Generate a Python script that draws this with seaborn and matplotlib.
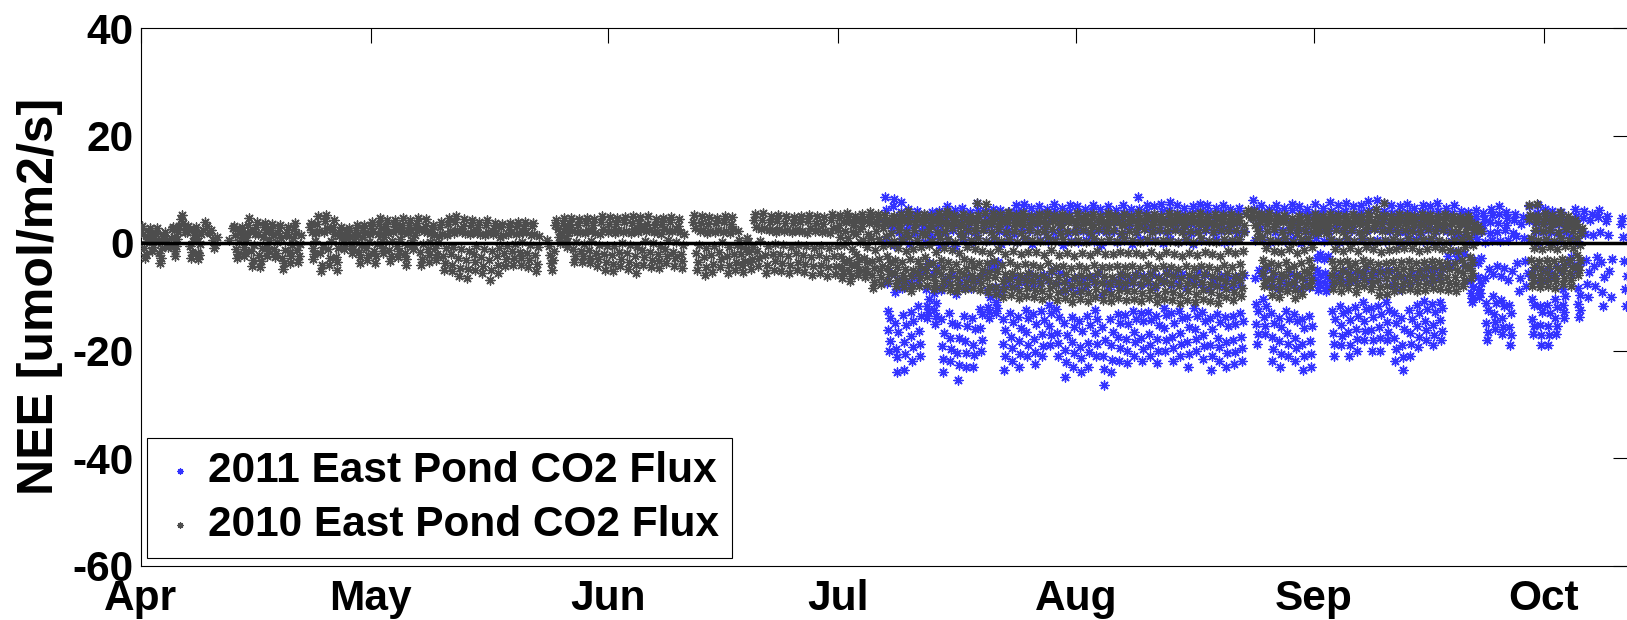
import matplotlib
matplotlib.use("Agg")
import matplotlib.pyplot as plt
import pandas as pd
import seaborn as sns

# ---------------- axis categories ----------------
month_names = ["Apr", "May", "Jun", "Jul", "Aug", "Sep", "Oct"]
month_start_doy = [91, 121, 152, 182, 213, 244, 274]
y_ticks = [-60, -40, -20, 0, 20, 40]

# ---------------- 2010 East Pond NEE (umol/m2/s): one string per calendar day,
# values in time-of-day order, "" = no data ----------------
nee_2010_apr = [
    "2.4 3.1 1.7 -0.9 -2.8 -2.1 0.3 1.2", "2.1 2.8 1.3 0.1 -1.5 -0.7 0.9 1.9",
    "1.6 2.7 0.4 -1.9 -3.7 -2.8 -1.0 0.9", "1.3 2.0 0.5 -0.8 -0.3 1.0",
    "2.6 3.0 1.1 -1.4 -2.4 -0.5 0.8 2.0", "3.1 4.4 5.2 3.7 2.0 2.6",
    "2.0 3.2 2.5 -0.6 -2.8 -1.7 0.4 1.4", "2.3 3.0 1.0 -1.8 -3.0 -2.2 -0.2 1.6",
    "2.4 4.0 3.2 2.0", "1.8 2.4 0.6 -1.0 -0.3 1.1", "", "0.6",
    "2.7 3.2 1.5 -1.2 -2.8 -2.0 0.2 1.9", "2.2 3.0 1.2 -0.8 -2.4 -1.6 0.5 1.6",
    "3.3 4.6 2.2 -1.5 -4.2 -3.1 -0.4 1.7", "2.9 4.0 1.6 -2.2 -4.4 -3.3 -0.9 1.2",
    "3.0 3.8 2.1 -0.7 -2.5 -1.5 0.6 2.4", "2.4 3.6 1.4 -1.1 -2.6 -1.9 0.2 1.8",
    "2.8 3.4 1.0 -2.7 -4.8 -3.8 -1.3 1.5", "2.1 3.0 1.3 -1.6 -3.7 -2.5 -0.3 1.0",
    "2.6 3.7 1.8 -1.3 -3.6 -2.4 -0.1 1.4", "",
    "2.9 3.8 2.0 -0.9 -3.0 -2.0 0.3 1.8", "3.6 5.0 2.3 -1.9 -5.3 -4.1 -0.8 2.0",
    "4.1 5.3 2.8 -1.2 -4.0 -2.7 0.4 2.5", "3.0 4.2 1.7 -2.6 -5.0 -3.6 -1.0 1.3",
    "2.4 3.0 1.6 0.2 -1.2 -0.5 0.9 2.0", "2.0 2.8 1.1 -0.6 -1.8 -1.1 0.4 1.5",
    "2.5 3.4 1.5 -1.6 -3.7 -2.6 -0.4 1.1", "2.8 3.4 1.8 -1.0 -3.1 -2.2 0.1 1.6",
]
nee_2010_may = [
    "3.1 4.0 2.2 -1.4 -3.7 -2.5 -0.2 1.7", "3.6 4.6 2.7 0.3 -1.9 -0.9 1.2 2.4",
    "3.2 4.2 1.9 -1.3 -3.4 -2.4 0.3 2.1", "3.5 4.3 2.6 -0.5 -2.6 -1.5 0.8 2.3",
    "3.4 4.6 2.1 -1.8 -4.0 -2.9 -0.3 1.8", "3.3 4.2 2.5 0.6 -1.2 -0.3 1.4 2.9",
    "3.8 4.6 2.4 -1.6 -4.0 -3.0 -0.1 2.2", "3.2 4.4 2.0 -1.2 -3.6 -2.3 0.2 1.9",
    "2.6 3.4 1.5 -1.0 -3.1 -2.0 0.0 1.3", "3.0 4.0 1.7 -2.4 -5.0 -3.7 -0.9 1.5",
    "3.5 4.6 2.2 -2.1 -5.3 -4.0 -0.7 1.9", "3.9 5.0 2.5 -2.8 -6.2 -4.6 -1.1 2.0",
    "3.1 4.4 1.9 -3.2 -6.5 -4.9 -1.5 1.6", "3.4 4.2 2.3 -2.0 -5.0 -3.5 -0.6 1.8",
    "2.9 4.0 1.6 -2.6 -5.6 -4.2 -1.2 1.4", "3.3 4.2 2.0 -3.1 -6.8 -5.0 -1.4 1.7",
    "2.8 3.8 1.8 -2.4 -5.5 -4.0 -1.0 1.2", "2.9 3.6 1.5 -1.9 -4.3 -3.0 -0.5 1.6",
    "3.0 3.8 2.0 -1.5 -4.0 -2.8 -0.2 1.7", "3.2 4.0 1.9 -1.7 -4.0 -2.7 0.1 2.1",
    "2.8 4.0 2.1 -1.9 -4.4 -3.2 -0.4 1.5", "3.1 3.8 1.6 -2.3 -5.3 -3.9 -0.8 1.3",
    "", "0.5 -0.6 -2.2 -3.8 -5.0 -3.1 -1.4",
    "3.3 4.2 2.6 1.2 0.0 1.9", "3.7 4.6 2.8 0.9 -0.8 0.2 1.8 3.0",
    "3.5 4.6 2.3 -1.2 -3.5 -2.4 0.1 2.0", "3.3 4.4 2.0 -1.5 -3.6 -2.5 -0.1 1.8",
    "3.8 4.6 2.4 -1.3 -3.8 -2.7 0.3 2.2", "3.4 4.4 1.9 -1.8 -4.2 -3.0 -0.3 1.7",
    "3.9 5.0 2.6 -2.0 -5.0 -3.6 -0.5 2.1",
]
nee_2010_jun = [
    "3.6 4.8 2.3 -2.2 -5.3 -3.9 -0.6 1.9", "3.5 4.6 2.5 -1.6 -4.2 -2.9 0.0 2.1",
    "3.9 4.8 2.2 -1.9 -4.8 -3.5 -0.4 1.8", "3.7 5.0 2.6 -2.4 -5.6 -4.1 -0.8 2.0",
    "3.8 4.8 2.7 -1.3 -4.0 -2.6 0.4 2.3", "3.6 5.0 2.4 -1.7 -4.4 -3.1 0.0 2.0",
    "3.4 4.4 2.0 -2.0 -4.7 -3.4 -0.5 1.6", "3.5 4.6 2.6 -1.2 -3.8 -2.5 0.5 2.2",
    "3.9 4.8 2.3 -1.6 -4.2 -2.8 0.2 2.4", "3.2 4.4 2.1 -2.0 -4.6 -3.3 -0.4 1.7",
    "", "4.0 5.2 2.7 -1.9 -5.0 -3.6 -0.3 2.3",
    "3.7 5.0 2.4 -2.6 -6.0 -4.4 -0.9 1.9", "3.6 4.8 2.2 -2.2 -5.4 -3.9 -0.6 2.0",
    "3.8 4.6 2.5 -1.6 -4.4 -3.0 0.1 2.1", "3.9 5.0 2.3 -2.4 -5.6 -4.1 -0.7 1.8",
    "3.5 4.8 2.6 -2.0 -5.0 -3.5 -0.4 2.2", "0.6 -0.5 -2.0 -4.1 -5.4 -3.3 -1.2",
    "1.0 0.1 -1.6 -3.6 -4.8 -2.9 -0.7", "4.2 5.4 2.9 -1.4 -4.2 -2.8 0.4 2.6",
    "4.3 5.6 2.8 -2.2 -5.6 -4.0 -0.5 2.4", "3.9 5.0 2.5 -2.0 -5.0 -3.4 -0.2 2.1",
    "4.1 5.2 2.6 -2.1 -5.2 -3.8 -0.4 2.3", "3.8 5.0 2.4 -2.4 -5.6 -4.0 -0.7 2.0",
    "3.7 4.8 2.5 -1.9 -5.0 -3.6 -0.3 2.2", "4.0 5.0 2.2 -2.3 -5.4 -3.9 -0.6 1.9",
    "4.1 5.2 2.7 -2.6 -6.0 -4.3 -0.9 2.3", "3.8 5.0 2.4 -2.3 -5.6 -4.1 -0.5 2.0",
    "3.6 4.8 2.2 -2.7 -6.2 -4.5 -1.0 1.8", "4.3 5.4 2.8 -2.4 -5.8 -4.2 -0.6 2.4",
]
nee_2010_jul = [
    "3.4 4.6 5.2 1.2 -2.5 -4.4 -6.6 -5.6 -3.3 -0.4 2.3 3.9",
    "4.1 5.6 4.8 0.9 -3.1 -5.2 -7.0 -6.1 -4.0 -1.1 2.0 3.3",
    "3.8 4.4 5.0 1.6 -2.0 -3.9 -6.0 -5.0 -2.9 0.2 2.6 4.2",
    "3.2 5.4 4.5 0.5 -2.7 -4.8 -6.4 -5.3 -3.6 -0.8 1.7 3.7",
    "4.4 5.8 5.1 1.0 -3.4 -5.9 -8.4 -7.2 -4.6 -1.3 2.2 3.6",
    "3.9 4.9 5.4 0.7 -2.9 -5.1 -7.6 -6.4 -4.2 -0.6 2.7 4.0",
    "3.5 5.2 4.3 1.3 -2.4 -4.7 -7.0 -5.8 -3.5 -0.2 1.9 3.8",
    "4.0 4.6 5.0 0.4 -3.2 -5.6 -8.0 -6.8 -4.4 -1.0 2.4 3.3",
    "3.7 5.4 4.4 0.8 -3.6 -6.0 -8.2 -7.1 -4.9 -1.4 2.1 4.1",
    "4.3 6.0 5.2 1.1 -3.0 -6.2 -9.0 -7.8 -5.0 -1.2 2.5 3.6",
    "3.6 4.7 5.2 0.6 -3.3 -5.5 -8.0 -6.6 -4.3 -0.7 1.8 3.9",
    "4.2 5.4 4.6 1.4 -2.6 -5.0 -7.8 -6.3 -3.9 -0.3 2.6 3.4",
    "3.3 5.0 4.2 0.3 -3.8 -6.3 -8.6 -7.5 -5.1 -1.6 2.0 3.7",
    "4.5 5.6 4.9 1.0 -3.1 -5.7 -8.4 -7.0 -4.5 -0.9 2.3 3.5",
    "3.8 5.3 6.0 0.8 -3.5 -6.1 -8.8 -7.6 -4.8 -1.3 2.7 4.2",
    "4.0 5.2 4.5 0.2 -3.9 -6.5 -9.0 -7.9 -5.3 -1.8 1.9 3.2",
    "3.5 4.8 5.4 1.2 -3.0 -5.8 -8.6 -7.3 -4.7 -0.8 2.4 4.0",
    "4.1 5.0 4.3 0.5 -3.4 -5.9 -8.4 -7.1 -4.4 -1.1 2.2 3.4",
    "4.4 7.4 5.3 0.9 -3.7 -6.2 -8.8 -7.4 -5.0 -1.5 2.5 3.8",
    "3.9 5.6 7.2 0.4 -3.8 -6.6 -9.2 -8.0 -5.4 -1.9 2.1 3.5",
    "4.2 5.6 4.7 1.1 -3.3 -6.4 -9.4 -8.1 -5.2 -1.2 2.6 3.7",
    "3.6 5.4 4.4 0.3 -4.1 -7.0 -10.0 -8.6 -5.8 -2.0 2.0 3.9",
    "4.5 5.8 5.0 0.8 -3.6 -6.7 -9.6 -8.2 -5.5 -1.4 2.3 3.3",
    "3.8 4.6 5.2 0.2 -4.3 -7.3 -10.2 -8.9 -6.0 -2.1 1.8 3.6",
    "4.0 5.6 4.8 1.0 -3.9 -6.8 -9.8 -8.4 -5.6 -1.7 2.4 3.4",
    "3.4 5.0 4.3 0.6 -4.0 -7.1 -10.0 -8.7 -5.9 -1.6 2.0 3.8",
    "4.3 5.4 4.6 0.4 -4.4 -7.4 -10.4 -9.0 -6.1 -2.2 2.2 3.5",
    "3.7 5.0 5.6 1.1 -3.7 -6.9 -9.8 -8.3 -5.3 -1.3 2.6 4.1",
    "4.1 5.2 4.4 0.3 -4.5 -7.6 -10.6 -9.2 -6.3 -2.3 1.9 3.3",
    "3.6 5.4 4.7 0.7 -4.2 -7.2 -10.2 -8.8 -5.7 -1.8 2.3 3.9",
    "4.2 5.0 4.5 0.1 -4.6 -7.8 -11.0 -9.5 -6.4 -2.4 2.1 3.4",
]
nee_2010_aug = [
    "3.9 5.6 4.6 0.6 -4.3 -7.4 -10.4 -9.0 -6.0 -1.9 2.4 3.6",
    "4.3 5.2 4.4 0.2 -4.6 -7.7 -10.8 -9.3 -6.2 -2.2 2.0 3.3",
    "3.5 4.7 5.4 0.9 -4.0 -7.0 -10.0 -8.5 -5.6 -1.5 2.6 4.0",
    "4.0 5.0 4.2 0.4 -4.4 -7.5 -10.6 -9.1 -6.1 -2.0 2.2 3.5",
    "3.7 5.6 4.9 0.7 -4.5 -7.6 -10.8 -9.4 -6.3 -2.1 2.5 3.9",
    "4.4 5.2 4.3 0.3 -4.2 -7.2 -10.2 -8.8 -5.8 -1.7 1.9 3.4",
    "3.6 4.8 5.4 1.0 -4.4 -7.5 -10.6 -9.0 -6.0 -1.9 2.3 3.8",
    "4.2 5.0 4.4 0.5 -4.3 -7.3 -10.4 -8.9 -5.9 -1.8 2.1 3.3",
    "3.8 5.6 4.7 0.2 -4.6 -7.7 -10.8 -9.3 -6.4 -2.3 2.6 4.1",
    "4.1 5.2 4.5 0.8 -4.1 -7.1 -10.2 -8.7 -5.7 -1.6 2.0 3.6",
    "3.4 4.6 5.4 0.4 -4.7 -7.9 -11.0 -9.6 -6.5 -2.4 2.4 3.9",
    "4.0 5.0 4.3 0.6 -4.2 -7.3 -10.4 -8.9 -5.8 -1.7 2.2 3.5",
    "3.9 5.6 4.8 0.3 -4.4 -7.5 -10.6 -9.1 -6.2 -2.0 2.5 3.7",
    "4.3 5.4 4.6 0.1 -4.8 -8.0 -11.2 -9.7 -6.6 -2.5 2.1 3.4",
    "3.5 4.4 5.0 0.7 -4.3 -7.4 -10.6 -9.0 -6.0 -1.8 2.3 3.9",
    "4.2 5.2 4.5 0.2 -4.7 -7.8 -11.0 -9.5 -6.4 -2.3 2.0 3.6",
    "3.7 5.6 4.9 0.9 -4.2 -7.2 -10.4 -8.8 -5.8 -1.6 2.6 4.0",
    "4.1 5.0 4.2 0.4 -4.5 -7.6 -10.8 -9.2 -6.2 -2.1 2.1 3.3",
    "3.6 5.4 4.6 0.2 -4.8 -8.0 -11.2 -9.7 -6.5 -2.4 2.4 3.8",
    "4.4 5.2 4.4 0.8 -4.0 -7.0 -10.0 -8.6 -5.6 -1.5 2.2 3.5",
    "3.8 4.7 5.4 0.5 -4.4 -7.5 -10.6 -9.1 -6.1 -1.9 2.5 4.1",
    "4.0 5.0 4.3 0.7 -3.9 -6.8 -9.8 -8.4 -5.5 -1.4 2.0 3.4",
    "5.4 6.2 4.8", "4.6 6.0 3.4 1.0 2.2 5.2",
    "3.9 5.4 4.4 1.1 -3.1 -5.6 -8.0 -6.8 -4.3 -0.9 2.3 3.5",
    "4.2 5.6 4.7 0.6 -3.8 -6.7 -9.6 -8.2 -5.4 -1.4 2.6 3.7",
    "3.5 5.0 4.2 0.3 -4.0 -7.0 -10.0 -8.6 -5.7 -1.7 2.1 3.9",
    "4.1 5.2 4.5 0.9 -3.5 -6.2 -9.0 -7.6 -4.9 -1.2 2.4 3.3",
    "3.4 4.6 3.9 0.2 -4.2 -7.2 -10.2 -8.8 -5.9 -1.9 1.8 3.0",
    "3.9 5.0 4.3 0.7 -3.7 -6.5 -9.4 -8.0 -5.2 -1.3 2.2 3.6",
    "3.6 4.8 4.0 1.0 -3.2 -5.6 -8.0 -6.9 -4.4 -0.8 2.0 3.2",
]
nee_2010_sep = [
    "4.2 5.4 4.8 3.0 1.8 2.4 3.6 4.6", "3.8 5.0 4.4 2.8 1.8 2.2 3.3 4.3",
    "3.7 5.4 4.5 0.8 -3.4 -6.0 -8.6 -7.3 -4.7 -1.1 2.4 3.9",
    "4.2 5.2 4.3 0.4 -3.6 -6.3 -9.0 -7.7 -5.0 -1.4 2.1 3.4",
    "3.5 4.6 5.0 1.0 -3.3 -5.8 -8.4 -7.0 -4.5 -0.9 2.5 3.8",
    "4.0 5.4 4.7 0.3 -3.8 -6.5 -9.2 -7.9 -5.1 -1.5 2.0 3.5",
    "3.8 5.0 4.2 0.9 -3.1 -5.6 -8.0 -6.8 -4.2 -0.7 2.3 3.3",
    "4.4 5.6 4.8 0.5 -3.5 -6.0 -8.6 -7.4 -4.8 -1.2 2.6 3.7",
    "3.9 6.4 5.0 0.2 -3.9 -6.8 -9.6 -8.2 -5.4 -1.7 2.2 3.6",
    "4.5 7.4 5.3 0.6 -3.7 -6.6 -9.4 -8.0 -5.2 -1.3 2.4 3.9",
    "3.6 5.0 4.3 0.8 -3.6 -6.3 -9.0 -7.6 -4.9 -1.2 2.1 3.4",
    "4.1 5.4 4.6 0.4 -3.5 -6.1 -8.8 -7.5 -4.8 -1.0 2.5 3.7",
    "3.7 4.8 5.2 1.0 -3.4 -6.0 -8.6 -7.3 -4.6 -0.9 2.3 3.5",
    "4.0 5.0 4.4 0.3 -3.7 -6.4 -9.0 -7.7 -5.0 -1.4 2.0 3.3",
    "3.5 5.4 4.7 0.7 -3.6 -6.2 -8.8 -7.4 -4.7 -1.1 2.6 3.9",
    "4.2 5.2 4.4 0.9 -3.3 -5.9 -8.4 -7.1 -4.5 -0.8 2.2 3.6",
    "3.8 4.5 5.0 0.5 -3.5 -6.0 -8.6 -7.3 -4.7 -1.2 2.4 3.4",
    "4.3 5.4 4.6 0.2 -3.7 -6.3 -8.8 -7.5 -4.9 -1.3 2.1 3.7",
    "3.6 5.0 4.2 0.6 -3.8 -6.4 -9.0 -7.7 -5.1 -1.5 2.3 3.5",
    "3.9 4.8 4.1 0.8 -3.2 -5.6 -8.0 -6.8 -4.3 -0.8 2.0 3.2",
    "3.7 5.0 4.3 1.1 -2.6 -4.6 -6.6 -5.6 -3.5 -0.4 2.4 3.6",
    "2.6 3.2 2.2",
    "", "", "", "", "", "",
    "4.4 7.0 5.3 0.9 -3.2 -5.7 -8.0 -6.9 -4.4 -0.9 2.5 3.9",
    "4.8 7.2 5.0 0.5 -3.4 -5.9 -8.2 -7.0 -4.6 -1.1 2.2 3.6",
]
nee_2010_oct = [
    "4.1 5.6 4.7 0.8 -3.1 -5.6 -8.0 -6.8 -4.3 -0.8 2.4 3.5",
    "3.7 5.2 4.4 0.4 -3.4 -5.9 -8.4 -7.1 -4.6 -1.1 2.1 3.8",
    "4.3 5.8 4.9 1.0 -2.9 -5.3 -7.6 -6.5 -4.1 -0.6 2.6 3.4",
    "3.8 5.0 4.2 0.6 -3.2 -5.6 -8.0 -6.8 -4.4 -0.9 2.2 3.6",
    "3.2 4.2 3.6 0.9 -2.3 -4.2 -6.0 -5.1 -3.1 -0.3 1.9 2.8",
]

# ---------------- 2011 East Pond NEE (umol/m2/s) ----------------
nee_2011_jul = [
    "", "", "", "", "", "",
    "4.1 8.6 6.2 0.5 -7.4 -12.6 -16.1 -20 -18.2 -13.9 -5.8 2.7",
    "3.6 6.9 8.2 -0.4 -9.1 -14.8 -19.7 -24 -21.3 -16.5 -6.9 2.0",
    "4.6 7.6 5.8 0.9 -8.3 -13.4 -18.5 -23.6 -20.6 -15.2 -7.2 2.4",
    "3.3 6.4 5.1 -0.2 -7.8 -12.9 -17.3 -22 -19.4 -14.6 -6.1 1.8",
    "3.9 5.2 6.0 0.6 -6.9 -11.8 -16.4 -21 -18.7 -13.5 -5.4 2.3",
    "3.1 5.4 4.5 0.2 -4.9 -8.6 -11.7 -14 -12.8 -10.4 -3.8 1.6",
    "3.7 4.6 5.8 0.8 -5.6 -9.3 -12.5 -15 -13.6 -11.2 -4.4 2.1",
    "3.4 6.0 5.0 -0.3 -8.7 -14.1 -19.2 -24 -21.6 -16.8 -6.6 1.9",
    "4.2 6.8 5.5 0.4 -7.6 -13.0 -17.6 -22 -19.8 -14.9 -6.0 2.5",
    "3.5 5.1 6.2 -0.5 -9.4 -15.3 -20.4 -25.5 -22.7 -17.6 -7.3 1.7",
    "4.0 6.6 5.4 0.7 -8.1 -13.6 -18.3 -23 -20.5 -15.5 -6.4 2.2",
    "3.3 5.8 4.7 0.1 -8.4 -13.9 -18.9 -23 -20.9 -16.0 -6.8 1.5",
    "4.4 7.4 6.1 0.9 -7.1 -12.2 -15.8 -20 -18.0 -13.3 -5.5 2.8",
    "3.8 6.0 4.9 0.3 -5.2 -8.8 -11.9 -14 -12.9 -10.1 -3.9 2.0",
    "3.6 5.3 6.4 0.6 -4.7 -8.1 -11.0 -13 -12.1 -9.5 -3.5 2.2",
    "4.1 6.2 5.2 -0.1 -8.5 -14.2 -18.8 -23.6 -21.0 -16.1 -6.7 1.9",
    "3.2 4.8 5.8 0.5 -7.9 -13.1 -17.5 -22 -19.6 -14.7 -6.2 1.6",
    "4.5 7.0 5.7 0.2 -8.2 -13.8 -18.2 -23 -20.7 -15.8 -6.5 2.6",
    "3.9 6.0 7.2 0.8 -7.3 -12.4 -16.6 -21 -18.9 -14.0 -5.7 2.4",
    "4.3 6.6 5.3 -0.2 -8.0 -13.3 -17.9 -22.5 -20.2 -15.1 -6.3 2.0",
    "3.5 6.8 5.6 0.6 -7.5 -12.7 -16.9 -21 -19.1 -14.4 -5.9 2.3",
    "4.0 5.4 6.4 0.4 -6.8 -11.5 -15.4 -19 -17.2 -13.1 -5.2 2.1",
    "4.6 7.2 5.9 0.7 -7.4 -12.3 -16.7 -21 -18.6 -13.8 -5.6 2.5",
    "3.7 6.6 5.0 -0.4 -9.0 -14.9 -19.9 -24.9 -22.2 -17.1 -7.0 1.8",
    "4.2 5.8 7.0 0.3 -8.3 -13.7 -18.4 -23 -20.4 -15.6 -6.6 2.4",
]
nee_2011_aug = [
    "3.9 6.8 5.5 0.1 -8.8 -14.5 -19.3 -24 -21.4 -16.4 -6.8 2.2",
    "4.3 6.4 5.2 0.6 -8.2 -13.5 -18.6 -23 -20.3 -15.3 -6.4 1.9",
    "3.6 5.9 7.0 0.4 -7.2 -12.5 -16.8 -21 -18.8 -14.2 -5.8 2.5",
    "4.0 6.4 5.1 -0.3 -9.6 -15.7 -21.0 -26.4 -23.4 -18.0 -7.4 2.0",
    "3.4 6.8 5.8 0.7 -8.6 -14.2 -19.0 -24 -21.7 -16.6 -6.9 2.3",
    "4.1 5.0 6.2 0.2 -7.7 -13.2 -17.4 -22 -19.5 -14.8 -6.2 1.7",
    "4.4 7.0 5.6 0.5 -8.0 -13.4 -17.8 -22.4 -20.0 -15.0 -6.3 2.6",
    "3.8 6.4 5.3 -0.1 -7.3 -12.6 -16.5 -21 -18.5 -14.1 -5.9 2.1",
    "4.7 8.6 6.3 0.8 -7.9 -13.0 -17.6 -22 -19.7 -14.5 -6.1 2.7",
    "3.5 5.7 7.0 0.3 -7.4 -12.8 -16.9 -21 -18.9 -14.3 -5.7 2.2",
    "4.2 6.8 5.4 0.6 -8.1 -13.5 -17.9 -22.4 -20.1 -15.2 -6.4 2.4",
    "3.9 7.2 6.0 0.0 -7.0 -12.1 -15.9 -20 -18.1 -13.4 -5.5 2.0",
    "4.5 6.2 7.6 0.7 -7.8 -13.1 -17.5 -22 -19.6 -14.8 -6.0 2.6",
    "3.7 7.0 5.6 0.2 -7.5 -12.7 -16.8 -21 -18.7 -14.0 -5.8 2.3",
    "4.1 6.6 5.3 0.5 -8.3 -13.8 -18.5 -23 -20.6 -15.6 -6.5 1.9",
    "3.6 5.5 6.8 -0.1 -7.1 -12.0 -16.0 -20 -17.9 -13.6 -5.4 2.4",
    "4.4 7.2 5.9 0.6 -7.6 -12.9 -17.2 -21.5 -19.2 -14.5 -6.0 2.5",
    "3.8 7.0 5.7 0.3 -8.5 -14.0 -18.9 -23.6 -21.1 -16.0 -6.7 2.1",
    "4.2 5.4 6.6 0.8 -7.9 -13.2 -17.6 -22 -19.4 -14.7 -6.1 2.2",
    "3.5 7.0 5.8 0.1 -8.2 -13.7 -18.4 -23 -20.5 -15.4 -6.5 2.6",
    "4.0 6.4 5.2 0.4 -8.1 -13.6 -18.0 -22.6 -20.2 -15.1 -6.3 1.8",
    "3.7 5.6 6.6 0.7 -7.8 -13.1 -17.5 -22 -19.6 -14.6 -6.0 2.3",
    "",
    "4.6 8.0 6.4 0.5 -6.6 -11.3 -15.1 -18.7 -16.9 -12.6 -5.0 2.7",
    "3.9 7.0 5.5 0.8 -6.1 -10.4 -13.8 -17 -15.5 -11.7 -4.6 2.2",
    "4.2 5.3 6.4 0.2 -7.8 -13.0 -17.4 -22 -19.8 -14.9 -6.2 2.0",
    "3.6 7.0 5.7 0.6 -8.3 -13.9 -18.3 -23 -20.7 -15.7 -6.6 2.4",
    "4.3 6.6 5.1 0.3 -7.4 -12.6 -16.7 -21 -18.8 -14.2 -5.8 2.1",
    "3.8 6.1 7.2 0.7 -7.9 -13.3 -17.7 -22 -19.5 -14.6 -6.1 2.5",
    "4.1 6.8 5.6 0.0 -8.6 -14.1 -18.8 -23.6 -21.0 -15.9 -6.8 2.2",
    "3.5 6.4 5.3 0.5 -8.2 -13.6 -18.2 -23 -20.6 -15.5 -6.4 1.9",
]
nee_2011_sep = [
    "4.0 7.2 5.6 0.9 -2.8 -5.1 -7.0 -8.7 -7.9 -5.9 -2.1 2.6",
    "3.7 5.4 6.6 0.4 -3.0 -5.5 -7.4 -9.0 -8.1 -6.3 -2.4 2.2",
    "4.4 7.6 6.0 0.6 -7.5 -12.6 -16.8 -21 -18.7 -14.1 -5.9 2.7",
    "3.8 7.0 5.5 0.2 -6.8 -11.7 -15.3 -19 -17.3 -13.0 -5.2 2.3",
    "4.2 6.0 7.4 0.8 -7.3 -12.4 -16.6 -21 -18.9 -14.3 -5.7 2.5",
    "3.6 6.8 5.4 0.3 -7.0 -11.9 -16.0 -20 -17.8 -13.5 -5.5 2.1",
    "4.1 7.0 5.7 0.7 -6.4 -10.9 -14.6 -18 -16.3 -12.3 -4.9 2.4",
    "4.5 7.8 6.2 0.1 -7.1 -12.0 -16.1 -20 -18.1 -13.7 -5.6 2.8",
    "3.9 6.3 8.0 0.6 -6.9 -11.8 -15.7 -20 -17.7 -13.2 -5.3 2.6",
    "4.3 7.4 5.9 0.4 -6.5 -11.0 -14.7 -18 -16.5 -12.4 -5.0 2.3",
    "3.7 7.0 5.6 0.8 -7.8 -13.1 -17.6 -22 -19.7 -14.8 -6.1 2.2",
    "4.0 5.5 6.8 0.2 -8.5 -14.0 -18.9 -23.6 -21.2 -16.0 -6.7 2.0",
    "4.4 7.2 5.8 0.5 -7.4 -12.5 -16.7 -21 -18.8 -14.2 -5.8 2.5",
    "3.5 6.6 5.3 0.7 -6.9 -11.6 -15.5 -19.3 -17.4 -13.0 -5.3 2.1",
    "4.2 5.7 7.0 0.3 -6.3 -10.8 -14.5 -18 -16.2 -12.2 -4.8 2.4",
    "3.8 6.8 5.6 0.6 -6.8 -11.4 -15.2 -19 -17.1 -12.9 -5.1 2.2",
    "4.5 7.4 6.0 0.1 -6.4 -10.9 -14.4 -18 -16.4 -12.1 -4.9 2.6",
    "5.1 6.6 2.3 -2.4 -4.0 0.4",
    "5.5 7.0 1.6 -1.7 -3.0 0.8",
    "4.7 6.0 1.2 -2.1 -4.0 0.3",
    "3.6 5.8 4.6 0.4 -4.2 -7.0 -9.3 -11 -10.2 -8.1 -3.1 1.9",
    "3.9 5.0 6.2 0.8 -3.7 -6.4 -8.6 -10 -9.3 -7.5 -2.7 2.2",
    "3.4 5.6 4.4 0.2 -6.5 -11.1 -14.8 -18 -16.5 -12.4 -4.9 1.8",
    "4.0 6.4 5.2 0.6 -5.8 -9.9 -13.2 -16 -14.7 -11.2 -4.3 2.1",
    "3.7 5.4 6.8 0.3 -6.2 -10.6 -14.0 -17 -15.6 -11.8 -4.6 2.4",
    "3.3 5.8 4.7 0.5 -6.8 -11.6 -15.6 -19 -17.2 -13.0 -5.2 1.9",
    "4.2 5.4 1.3 -3.8 -9.0 -6.6",
    "3.6 4.8 0.9 -3.3 -8.0 -5.5",
    "4.1 6.8 5.3 0.7 -6.1 -10.5 -14.1 -17 -15.4 -11.6 -4.7 2.3",
    "3.8 5.6 7.0 0.2 -6.9 -11.7 -15.3 -19 -17.1 -12.8 -5.1 2.1",
]
nee_2011_oct = [
    "4.0 6.4 5.1 0.5 -6.7 -11.5 -15.4 -19 -17.2 -13.1 -5.3 2.0",
    "3.6 6.0 4.8 0.1 -6.2 -10.4 -13.9 -17 -15.5 -11.9 -4.5 1.8",
    "3.5 4.7 5.8 0.6 -5.0 -8.6 -11.5 -14 -12.9 -9.8 -3.8 2.0",
    "3.3 4.2 1.1 -2.6 -6.0 -4.1",
    "3.9 6.4 5.0 0.3 -4.9 -8.4 -11.4 -13.7 -12.5 -9.6 -3.6 2.1",
    "4.7 6.0 1.7 -3.2 -7.6 -10.0 -5.4",
    "4.2 5.4 1.5 -4.3 -8.0 -2.6",
    "4.9 6.2 2.0 -3.6 -9.1 -11.8 -6.3",
    "4.1 5.0 1.4 -5.3 -10.0 -2.9",
    "",
    "3.6 4.6 1.2 -3.4 -8.6 -11.7 -6.2",
]


def to_frame(months):
    rows = []
    for start, days in months:
        for i, s in enumerate(days):
            vals = [float(t) for t in s.split()]
            n = len(vals)
            for k, v in enumerate(vals):
                rows.append((start + i + (k + 0.5) / n, v))
    return pd.DataFrame(rows, columns=["doy", "nee"])


df2010 = to_frame(list(zip(month_start_doy,
                           [nee_2010_apr, nee_2010_may, nee_2010_jun, nee_2010_jul,
                            nee_2010_aug, nee_2010_sep, nee_2010_oct])))
df2011 = to_frame(list(zip(month_start_doy[3:],
                           [nee_2011_jul, nee_2011_aug, nee_2011_sep, nee_2011_oct])))

sns.set_style("white")
plt.rcParams["font.family"] = ["Liberation Sans", "DejaVu Sans"]
plt.rcParams["font.weight"] = "bold"
plt.rcParams["axes.labelweight"] = "bold"
plt.rcParams["axes.unicode_minus"] = False
plt.rcParams["text.color"] = "black"
plt.rcParams["axes.labelcolor"] = "black"
plt.rcParams["xtick.color"] = "black"
plt.rcParams["ytick.color"] = "black"

W, H = 1627, 620
fig = plt.figure(figsize=(W / 100, H / 100), dpi=100)
ax = fig.add_axes([140.5 / W, 54.5 / H, 1487.5 / W, 537.5 / H])

star = (8, 2, 0)
sns.scatterplot(data=df2011, x="doy", y="nee", marker=star, s=42, color="#3333ff",
                linewidth=1.0, ax=ax, label="2011 East Pond CO2 Flux", zorder=2)
sns.scatterplot(data=df2010, x="doy", y="nee", marker=star, s=42, color="#4d4d4d",
                linewidth=1.0, ax=ax, label="2010 East Pond CO2 Flux", zorder=3)
ax.axhline(0, color="black", lw=2.5, zorder=4)

ax.set_xlim(91, 285)
ax.set_ylim(-60, 40)
ax.set_xticks(month_start_doy)
ax.set_xticklabels(month_names)
ax.set_yticks(y_ticks)
ax.set_xlabel("")
ax.set_ylabel("NEE [umol/m2/s]", fontsize=36, fontweight="bold", va="center", color="black")
ax.yaxis.set_label_coords(-0.0676, 0.5)

ax.tick_params(direction="in", length=10.8, width=0.8, top=True, right=True,
               labelsize=30.5, colors="black", labelcolor="black")
ax.tick_params(axis="x", pad=9.5)
ax.tick_params(axis="y", pad=5)
for sp in ax.spines.values():
    sp.set_visible(True)
    sp.set_color("black")
    sp.set_linewidth(0.8)

leg = ax.legend(loc="lower left", bbox_to_anchor=(0.0046, 0.014), borderaxespad=0,
                fontsize=30.5, frameon=True, fancybox=False, framealpha=1,
                edgecolor="black", markerscale=0.6, handlelength=0.94,
                handletextpad=0.2, borderpad=0.3, labelspacing=0.34)
leg.get_frame().set_linewidth(0.8)
for t in leg.get_texts():
    t.set_fontweight("bold")
    t.set_color("black")

fig.savefig("out.png", dpi=100)
